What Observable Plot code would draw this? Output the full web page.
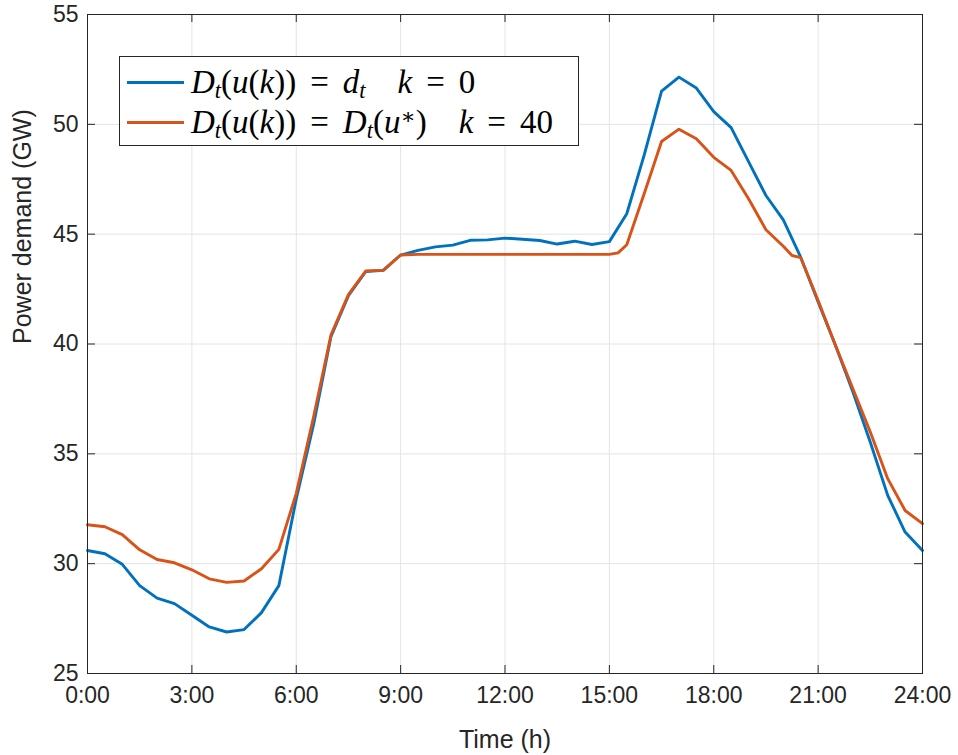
<!DOCTYPE html>
<html>
<head>
<meta charset="utf-8">
<script src="https://cdn.jsdelivr.net/npm/d3@7"></script>
<script src="https://cdn.jsdelivr.net/npm/@observablehq/plot@0.6"></script>
<style>
  body { margin: 0; background: #fff; }
  #wrap { position: relative; width: 958px; height: 755px; }
  #legend {
    position: absolute; left: 119px; top: 56px; width: 458px; height: 88px;
    border: 1px solid #262626; background: #fff;
    font-family: "Liberation Serif", "DejaVu Serif", serif; font-size: 33px; color: #000;
  }
  .row { position: absolute; left: 0; height: 34px; line-height: 1; display: flex; align-items: center; white-space: nowrap; }
  .row > span { line-height: 1; }
  .sw { width: 57px; height: 0; border-top: 3px solid; margin-left: 7px; margin-right: 7px; }
  i { font-style: italic; }
  sub { font-size: 0.68em; vertical-align: -0.22em; line-height: 0; }
  sup { font-size: 0.68em; vertical-align: 0.42em; line-height: 0; }
  .eq { display: inline-block; margin: 0 14px; }
  .sp { display: inline-block; width: 32px; }
</style>
</head>
<body>
<div id="wrap"></div>
<script>
// Time of day (hours)
const hoursBlue = [0,0.5,1,1.5,2,2.5,3,3.5,4,4.5,5,5.5,6,6.5,7,7.5,8,8.5,9,9.5,10,10.5,11,11.5,12,12.5,13,13.5,14,14.5,15,15.5,16,16.5,17,17.5,18,18.5,19,19.5,20,20.5,21,21.5,22,22.5,23,23.5,24];
// D_t(u(k)) = d_t, k = 0  (GW)
const demandK0 = [30.60,30.45,29.97,29.00,28.43,28.18,27.65,27.12,26.89,27.00,27.77,29.00,32.95,36.35,40.35,42.20,43.30,43.35,44.05,44.26,44.42,44.50,44.72,44.74,44.82,44.77,44.71,44.55,44.68,44.53,44.66,45.93,48.60,51.51,52.15,51.65,50.58,49.85,48.30,46.76,45.65,43.95,41.91,39.93,37.81,35.53,33.11,31.44,30.60];

const hoursOrange = [0,0.5,1,1.5,2,2.5,3,3.5,4,4.5,5,5.5,6,6.5,7,7.5,8,8.5,9,9.5,10,10.5,11,11.5,12,12.5,13,13.5,14,14.5,15,15.25,15.5,16,16.5,17,17.5,18,18.5,19,19.5,20,20.25,20.5,21,21.5,22,22.5,23,23.5,24];
// D_t(u(k)) = D_t(u*), k = 40  (GW)
const demandK40 = [31.77,31.68,31.32,30.63,30.19,30.04,29.72,29.31,29.15,29.21,29.77,30.65,33.20,36.70,40.42,42.25,43.33,43.35,44.05,44.08,44.08,44.08,44.08,44.08,44.08,44.08,44.08,44.08,44.08,44.08,44.08,44.15,44.52,46.84,49.22,49.78,49.34,48.50,47.90,46.61,45.20,44.45,44.03,43.93,41.98,39.93,37.96,35.99,33.87,32.42,31.82];

const xTicks = [0,3,6,9,12,15,18,21,24];
const xTickLabels = ["0:00","3:00","6:00","9:00","12:00","15:00","18:00","21:00","24:00"];
const yTicks = [25,30,35,40,45,50,55];

const blueData = hoursBlue.map((h, i) => ({h, v: demandK0[i]}));
const orangeData = hoursOrange.map((h, i) => ({h, v: demandK40[i]}));

const W = 958, H = 755, mL = 87, mR = 36, mT = 14, mB = 82;
const pw = W - mL - mR, ph = H - mT - mB;
const axisColor = "#262626", gridColor = "#e4e4e4";

const chart = Plot.plot({
  width: W, height: H,
  marginLeft: mL, marginRight: mR, marginTop: mT, marginBottom: mB,
  style: {fontFamily: "'Liberation Sans', Arial, sans-serif", fontSize: "23px", color: axisColor, background: "#fff", overflow: "visible"},
  x: {domain: [0, 24]},
  y: {domain: [25, 55]},
  marks: [
    Plot.gridX(xTicks, {stroke: gridColor, strokeOpacity: 1}),
    Plot.gridY(yTicks, {stroke: gridColor, strokeOpacity: 1}),
    Plot.axisX(xTicks, {tickSize: 0, tickPadding: 13, tickFormat: (d) => xTickLabels[xTicks.indexOf(d)], label: null, fill: axisColor}),
    Plot.axisY(yTicks, {tickSize: 0, tickPadding: 9, label: null, fill: axisColor}),
    Plot.tickX(xTicks, {x: (d) => d, insetTop: ph - 8, stroke: axisColor}),
    Plot.tickX(xTicks, {x: (d) => d, insetBottom: ph - 8, stroke: axisColor}),
    Plot.tickY(yTicks, {y: (d) => d, insetRight: pw - 8, stroke: axisColor}),
    Plot.tickY(yTicks, {y: (d) => d, insetLeft: pw - 8, stroke: axisColor}),
    Plot.line(blueData, {x: "h", y: "v", stroke: "#0072BD", strokeWidth: 2.9}),
    Plot.line(orangeData, {x: "h", y: "v", stroke: "#D95319", strokeWidth: 2.9}),
    Plot.frame({stroke: axisColor, strokeWidth: 1}),
    Plot.text(["Time (h)"], {frameAnchor: "bottom", dy: 74, fontSize: 25, fill: axisColor}),
    Plot.text(["Power demand (GW)"], {frameAnchor: "left", rotate: -90, dx: -65, fontSize: 25, fill: axisColor})
  ]
});

const wrap = document.getElementById("wrap");
wrap.appendChild(chart);

const legend = document.createElement("div");
legend.id = "legend";
legend.innerHTML = `
  <div class="row" style="top:8px"><span class="sw" style="border-color:#0072BD"></span><span><i>D</i><sub><i>t</i></sub>(<i>u</i>(<i>k</i>))<span class="eq">=</span><i>d</i><sub><i>t</i></sub><span class="sp"></span><i>k</i><span class="eq">=</span>0</span></div>
  <div class="row" style="top:48px"><span class="sw" style="border-color:#D95319"></span><span><i>D</i><sub><i>t</i></sub>(<i>u</i>(<i>k</i>))<span class="eq">=</span><i>D</i><sub><i>t</i></sub>(<i>u</i><sup>∗</sup>)<span class="sp"></span><i>k</i><span class="eq">=</span>40</span></div>`;
wrap.appendChild(legend);
</script>
</body>
</html>
